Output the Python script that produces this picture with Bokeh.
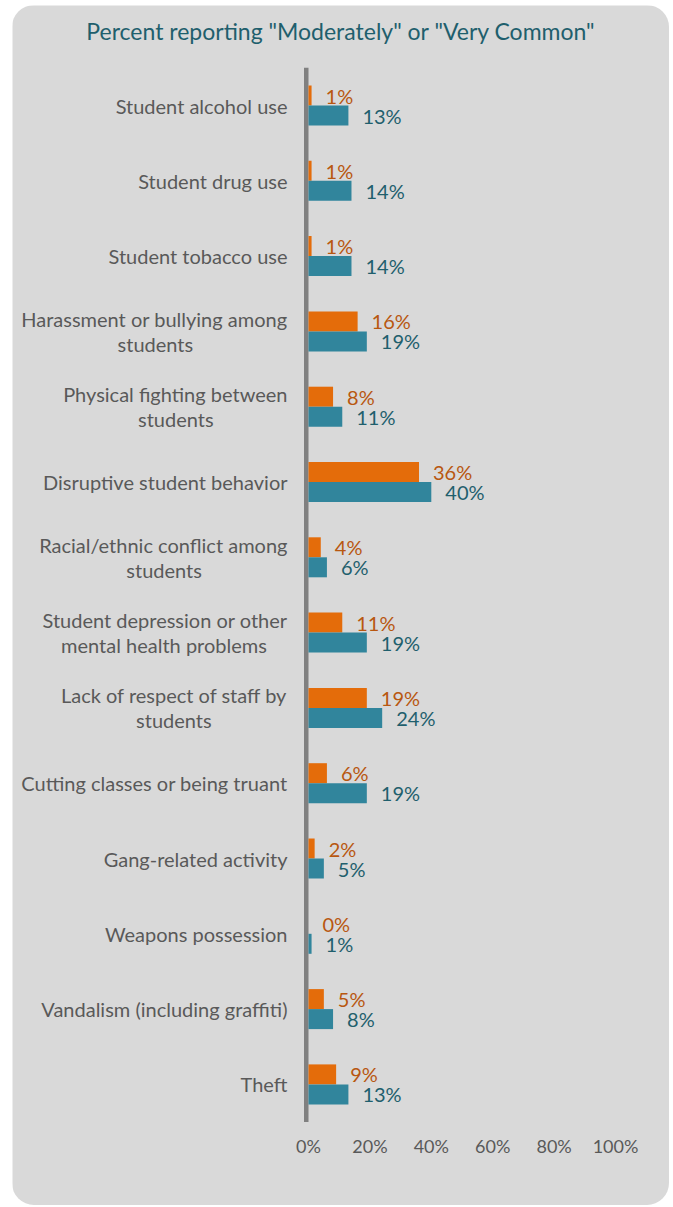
from bokeh.plotting import figure
from bokeh.models import Range1d, ColumnDataSource
from bokeh.core.properties import value
from bokeh.embed import file_html
from bokeh.resources import INLINE

# ---------------- data ----------------
categories = [
    "Student alcohol use",
    "Student drug use",
    "Student tobacco use",
    "Harassment or bullying among\nstudents",
    "Physical fighting between\nstudents",
    "Disruptive student behavior",
    "Racial/ethnic conflict among\nstudents",
    "Student depression or other\nmental health problems",
    "Lack of respect of staff by\nstudents",
    "Cutting classes or being truant",
    "Gang-related activity",
    "Weapons possession",
    "Vandalism (including graffiti)",
    "Theft",
]
series_orange = [1, 1, 1, 16, 8, 36, 4, 11, 19, 6, 2, 0, 5, 9]
series_teal = [13, 14, 14, 19, 11, 40, 6, 19, 24, 19, 5, 1, 8, 13]
tick_values = [0, 20, 40, 60, 80, 100]
tick_labels = ["0%", "20%", "40%", "60%", "80%", "100%"]
title_text = 'Percent reporting "Moderately" or "Very Common"'

# ---------------- style / layout ----------------
FONT = "Lato"
PANEL = "#d9d9d9"
ORANGE = "#e46c0a"
TEAL = "#31859c"
ORANGE_TXT = "#b85710"
TEAL_TXT = "#1f5f6d"
GRAY_TXT = "#595959"
AXIS = "#808080"

W, H = 657, 1200
PX = 3.07            # pixels per percent
ZERO = 296           # canvas px of 0%
ROW0 = 100           # canvas px of first row centre
ROW = 75.3           # px per row
CAT_SIZE = 20

x_start = -ZERO / PX
x_end = (W - ZERO) / PX
y_top = -ROW0 / ROW
y_bot = (H - ROW0) / ROW

p = figure(width=W, height=H, output_backend="svg", toolbar_location=None,
           x_range=Range1d(x_start, x_end), y_range=Range1d(y_bot, y_top),
           x_axis_location=None, y_axis_location=None, min_border=0)
p.margin = (5, 0, 0, 12)
p.styles = {"border-radius": "22px", "overflow": "hidden"}
p.grid.visible = False
p.outline_line_color = None
p.background_fill_color = PANEL
p.border_fill_color = PANEL

rows = list(range(len(categories)))
off = 10 / ROW
bar_h = 20 / ROW

src = ColumnDataSource(dict(
    y_o=[r - off for r in rows], y_t=[r + off for r in rows],
    vo=series_orange, vt=series_teal,
    lo=[f"{v}%" for v in series_orange], lt=[f"{v}%" for v in series_teal],
))

# axis line at 0
p.quad(left=-4.5 / PX, right=0, bottom=len(rows) - 0.5, top=-0.5,
       fill_color=AXIS, line_color=None)

p.hbar(y="y_o", right="vo", left=0, height=bar_h, source=src,
       fill_color=ORANGE, line_color=None)
p.hbar(y="y_t", right="vt", left=0, height=bar_h, source=src,
       fill_color=TEAL, line_color=None)

p.text(x="vo", y="y_o", text="lo", source=src, x_offset=14,
       text_align="left", text_baseline="middle", text_color=ORANGE_TXT,
       text_font=value(FONT), text_font_size="20px")
p.text(x="vt", y="y_t", text="lt", source=src, x_offset=14,
       text_align="left", text_baseline="middle", text_color=TEAL_TXT,
       text_font=value(FONT), text_font_size="20px")

# approximate glyph widths (em) to centre second lines under first lines
CW = {' ': .26, 'a': .51, 'b': .56, 'c': .46, 'd': .56, 'e': .53, 'f': .32,
      'g': .5, 'h': .56, 'i': .24, 'j': .24, 'k': .5, 'l': .24, 'm': .84,
      'n': .56, 'o': .56, 'p': .56, 'q': .56, 'r': .36, 's': .43, 't': .35,
      'u': .56, 'v': .5, 'w': .76, 'x': .5, 'y': .5, 'z': .45, '/': .38,
      '-': .35, '(': .3, ')': .3}

def tw(s):
    return sum(CW.get(c, 0.62) for c in s) * CAT_SIZE

l1_text, l1_y, l2_text, l2_y, l2_off = [], [], [], [], []
for r, c in zip(rows, categories):
    parts = c.split("\n")
    if len(parts) == 1:
        l1_text.append(parts[0]); l1_y.append(r)
    else:
        l1_text.append(parts[0]); l1_y.append(r - 12.5 / ROW)
        l2_text.append(parts[1]); l2_y.append(r + 12.5 / ROW)
        l2_off.append(-21 - tw(parts[0]) / 2)

p.text(x=0, y=l1_y, text=l1_text, x_offset=-21, text_align="right",
       text_baseline="middle", text_color=GRAY_TXT, text_font=value(FONT),
       text_font_size=f"{CAT_SIZE}px")
p.text(x=[0] * len(l2_text), y=l2_y, text=l2_text, x_offset=l2_off,
       text_align="center", text_baseline="middle", text_color=GRAY_TXT,
       text_font=value(FONT), text_font_size=f"{CAT_SIZE}px")

# tick labels
p.text(x=tick_values, y=[len(rows) - 0.5] * len(tick_values), text=tick_labels,
       y_offset=24, text_align="center", text_baseline="middle",
       text_color=GRAY_TXT, text_font=value(FONT), text_font_size="18px")

# title
p.text(x=[(x_start + x_end) / 2], y=[y_top + 25 / ROW], text=[title_text],
       text_align="center", text_baseline="middle", text_color=TEAL_TXT,
       text_font=value(FONT), text_font_size="23px")

open("out.html", "w").write(file_html(p, INLINE))
